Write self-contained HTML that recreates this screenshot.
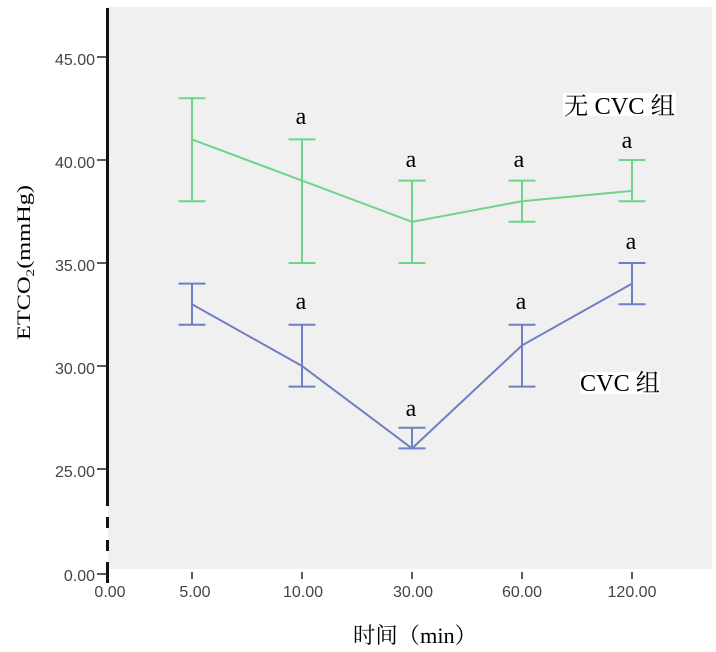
<!DOCTYPE html>
<html><head><meta charset="utf-8"><style>
html,body{margin:0;padding:0;background:#fff;}
svg{display:block;}
.tk{font-family:"Liberation Sans",sans-serif;font-size:16px;fill:#444;}
.sr{font-family:"Liberation Serif","Noto Serif CJK SC",serif;fill:#000;}
</style></head><body>
<svg width="716" height="652" viewBox="0 0 716 652" xmlns="http://www.w3.org/2000/svg">
<rect x="108" y="7" width="604" height="562" fill="#f0f0f0"/>
<!-- y axis -->
<g stroke="#111" stroke-width="3">
<line x1="107.5" y1="8" x2="107.5" y2="506"/>
<line x1="107.5" y1="517" x2="107.5" y2="528"/>
<line x1="107.5" y1="540" x2="107.5" y2="551"/>
<line x1="107.5" y1="562" x2="107.5" y2="583"/>
</g>
<g stroke="#222" stroke-width="1.5">
<line x1="97" y1="57" x2="107" y2="57"/>
<line x1="97" y1="160" x2="107" y2="160"/>
<line x1="97" y1="263" x2="107" y2="263"/>
<line x1="97" y1="366" x2="107" y2="366"/>
<line x1="97" y1="469" x2="107" y2="469"/>
<line x1="97" y1="574" x2="107" y2="574"/>
<line x1="192" y1="572" x2="192" y2="579"/>
<line x1="302" y1="572" x2="302" y2="579"/>
<line x1="412" y1="572" x2="412" y2="579"/>
<line x1="522" y1="572" x2="522" y2="579"/>
<line x1="632" y1="572" x2="632" y2="579"/>
</g>
<g class="tk" text-anchor="end">
<text x="95" y="65">45.00</text>
<text x="95" y="168">40.00</text>
<text x="95" y="271">35.00</text>
<text x="95" y="374">30.00</text>
<text x="95" y="477">25.00</text>
<text x="95" y="581">0.00</text>
</g>
<g class="tk" text-anchor="middle">
<text x="110" y="597">0.00</text>
<text x="195" y="597">5.00</text>
<text x="303" y="597">10.00</text>
<text x="413" y="597">30.00</text>
<text x="522" y="597">60.00</text>
<text x="632" y="597">120.00</text>
</g>
<!-- green series -->
<g stroke="#6fd48a" stroke-width="2" fill="none">
<polyline points="192,139.4 302,180.6 412,221.8 522,201.2 632,190.9"/>
<line x1="192" y1="98.2" x2="192" y2="201.2"/><line x1="178.5" y1="98.2" x2="205.5" y2="98.2"/><line x1="178.5" y1="201.2" x2="205.5" y2="201.2"/>
<line x1="302" y1="139.4" x2="302" y2="263"/><line x1="288.5" y1="139.4" x2="315.5" y2="139.4"/><line x1="288.5" y1="263" x2="315.5" y2="263"/>
<line x1="412" y1="180.6" x2="412" y2="263"/><line x1="398.5" y1="180.6" x2="425.5" y2="180.6"/><line x1="398.5" y1="263" x2="425.5" y2="263"/>
<line x1="522" y1="180.6" x2="522" y2="221.8"/><line x1="508.5" y1="180.6" x2="535.5" y2="180.6"/><line x1="508.5" y1="221.8" x2="535.5" y2="221.8"/>
<line x1="632" y1="160" x2="632" y2="201.2"/><line x1="618.5" y1="160" x2="645.5" y2="160"/><line x1="618.5" y1="201.2" x2="645.5" y2="201.2"/>
</g>
<!-- blue series -->
<g stroke="#6f7fc4" stroke-width="2" fill="none">
<polyline points="192,304.2 302,366 412,448.4 522,345.4 632,283.6"/>
<line x1="192" y1="283.6" x2="192" y2="324.8"/><line x1="178.5" y1="283.6" x2="205.5" y2="283.6"/><line x1="178.5" y1="324.8" x2="205.5" y2="324.8"/>
<line x1="302" y1="324.8" x2="302" y2="386.6"/><line x1="288.5" y1="324.8" x2="315.5" y2="324.8"/><line x1="288.5" y1="386.6" x2="315.5" y2="386.6"/>
<line x1="412" y1="427.8" x2="412" y2="448.4"/><line x1="398.5" y1="427.8" x2="425.5" y2="427.8"/><line x1="398.5" y1="448.4" x2="425.5" y2="448.4"/>
<line x1="522" y1="324.8" x2="522" y2="386.6"/><line x1="508.5" y1="324.8" x2="535.5" y2="324.8"/><line x1="508.5" y1="386.6" x2="535.5" y2="386.6"/>
<line x1="632" y1="263" x2="632" y2="304.2"/><line x1="618.5" y1="263" x2="645.5" y2="263"/><line x1="618.5" y1="304.2" x2="645.5" y2="304.2"/>
</g>
<!-- a labels -->
<g class="sr" font-size="24" text-anchor="middle">
<text x="301" y="124">a</text>
<text x="411" y="167">a</text>
<text x="519" y="167">a</text>
<text x="627" y="148">a</text>
<text x="301" y="309">a</text>
<text x="411" y="416">a</text>
<text x="521" y="309">a</text>
<text x="631" y="249">a</text>
</g>
<!-- group labels -->
<rect x="563" y="93" width="113" height="23" fill="#fff"/>
<text class="sr" x="564" y="114" font-size="24" textLength="111" lengthAdjust="spacingAndGlyphs">无 CVC 组</text>
<rect x="580" y="372" width="80" height="22" fill="#fff"/>
<text class="sr" x="580" y="391" font-size="24" textLength="80" lengthAdjust="spacingAndGlyphs">CVC 组</text>
<!-- axis titles -->
<text class="sr" transform="translate(30,340) rotate(-90)" font-size="19" textLength="155" lengthAdjust="spacingAndGlyphs">ETCO<tspan font-size="12" dy="4">2</tspan><tspan dy="-4">(mmHg)</tspan></text>
<text class="sr" x="353" y="643" font-size="22" textLength="124" lengthAdjust="spacingAndGlyphs">时间（min）</text>
</svg>
</body></html>
